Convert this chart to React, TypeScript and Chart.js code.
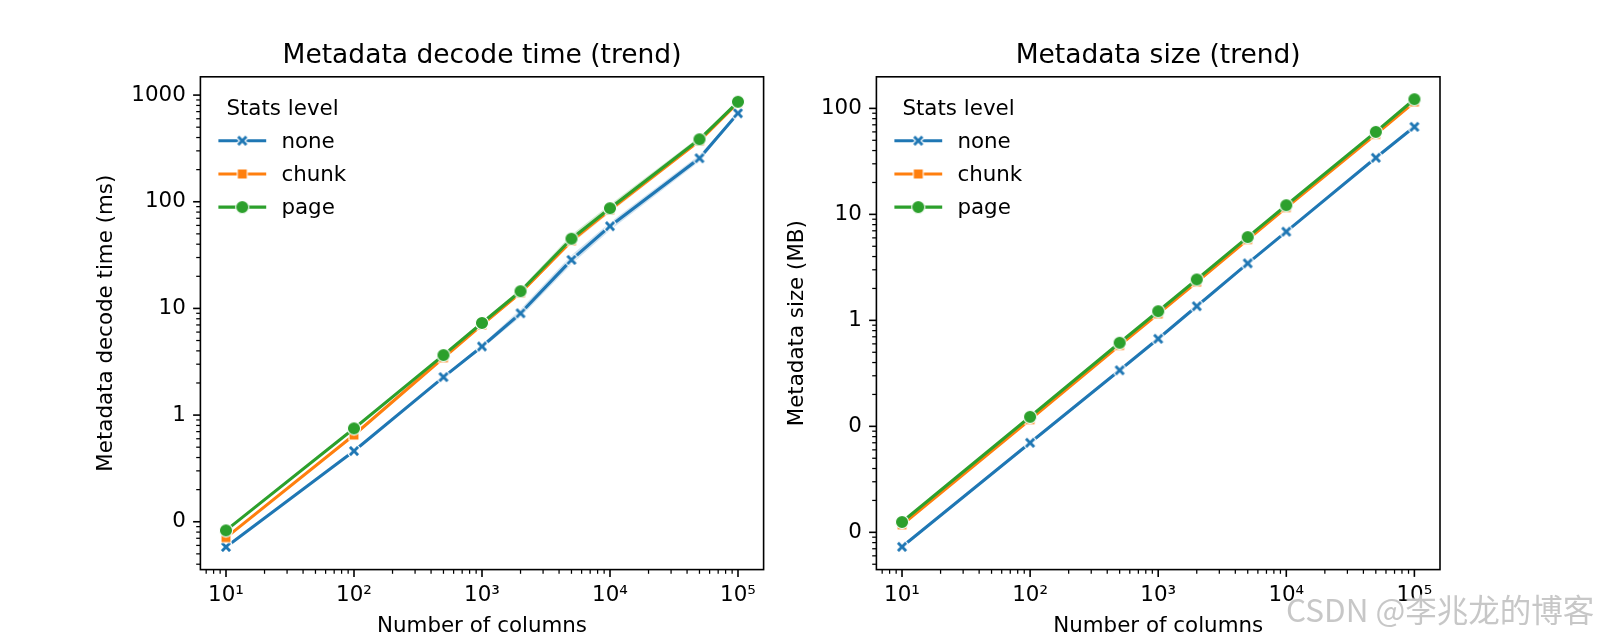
import React, { useEffect, useRef } from 'react';
import { Chart, registerables } from 'chart.js';

Chart.register(...registerables);

// ---------------- data ----------------
const columns = [10, 100, 500, 1000, 2000, 5000, 10000, 50000, 100000];

const seriesLabels = ['none', 'chunk', 'page'];
const seriesColors = ['#1f77b4', '#ff7f0e', '#2ca02c'];
const seriesMarkers = ['x', 'square', 'circle'];

// Metadata decode time (ms)
const decodeNone = [0.058, 0.46, 2.27, 4.4, 9.0, 28.5, 59, 256, 675];
const decodeChunk = [0.071, 0.65, 3.45, 7.0, 14.0, 43, 84, 372, 850];
const decodePage = [0.083, 0.75, 3.65, 7.3, 14.5, 45, 87, 385, 865];
// confidence bands (decode time)
const decodeNoneLow = [0.057, 0.452, 2.22, 4.2, 8.3, 26, 54, 238, 660];
const decodeNoneHigh = [0.059, 0.468, 2.32, 4.6, 9.8, 31.5, 64, 274, 692];
const decodeChunkLow = [0.07, 0.64, 3.38, 6.8, 13.4, 40.5, 79, 358, 832];
const decodeChunkHigh = [0.072, 0.66, 3.52, 7.2, 14.7, 45.5, 89, 387, 868];
const decodePageLow = [0.082, 0.74, 3.56, 7.0, 13.7, 41, 80, 364, 848];
const decodePageHigh = [0.084, 0.76, 3.74, 7.6, 15.3, 49, 94, 406, 882];

// Metadata size (MB)
const sizeNone = [0.0073, 0.07, 0.338, 0.67, 1.36, 3.45, 6.87, 34.2, 67];
const sizeChunk = [0.0118, 0.116, 0.58, 1.15, 2.3, 5.8, 11.6, 57, 115];
const sizePage = [0.0125, 0.123, 0.614, 1.22, 2.43, 6.1, 12.2, 60, 122];

// ticks
const xTickValues = [10, 100, 1000, 10000, 100000];
const xTickLabels = ['10¹', '10²', '10³', '10⁴', '10⁵'];
const decodeTickValues = [0.1, 1, 10, 100, 1000];
const decodeTickLabels = ['0', '1', '10', '100', '1000'];
const sizeTickValues = [0.01, 0.1, 1, 10, 100];
const sizeTickLabels = ['0', '0', '1', '10', '100'];

const legendTitle = 'Stats level';
const xAxisTitle = 'Number of columns';

// ---------------- style ----------------
const FONT = "'DejaVu Sans', sans-serif";
const FS = 21.4;
const TITLE_FS = 26.5;
const H = 640;
const AX_TOP = 76.8;
const AX_BOTTOM = 569.6;
const X_MIN = Math.pow(10, 0.8);
const X_MAX = Math.pow(10, 5.2);

Chart.defaults.font.family = FONT;
Chart.defaults.color = '#000';

function makeMarker(kind: string, color: string): HTMLCanvasElement {
  const s = 22;
  const c = document.createElement('canvas');
  c.width = s;
  c.height = s;
  const g = c.getContext('2d')!;
  const m = s / 2;
  g.beginPath();
  if (kind === 'circle') {
    g.arc(m, m, 6.6, 0, Math.PI * 2);
  } else if (kind === 'square') {
    g.rect(m - 5.0, m - 5.0, 10.0, 10.0);
  } else {
    const a = 6.3;
    const w = 2.0;
    const pts = [
      [w, a], [w, w], [a, w], [a, -w], [w, -w], [w, -a],
      [-w, -a], [-w, -w], [-a, -w], [-a, w], [-w, w], [-w, a],
    ];
    const r = Math.SQRT1_2;
    pts.forEach(([px, py], i) => {
      const x = m + (px - py) * r;
      const y = m + (px + py) * r;
      if (i === 0) g.moveTo(x, y);
      else g.lineTo(x, y);
    });
    g.closePath();
  }
  g.fillStyle = color;
  g.fill();
  g.lineWidth = 1.1;
  g.strokeStyle = '#ffffff';
  g.lineJoin = 'miter';
  g.stroke();
  return c;
}

function hexA(hex: string, a: number) {
  const n = parseInt(hex.slice(1), 16);
  return `rgba(${(n >> 16) & 255},${(n >> 8) & 255},${n & 255},${a})`;
}

// axes frame + matplotlib-like ticks + legend
const decorPlugin = {
  id: 'decor',
  afterDraw(chart: any) {
    const { ctx, chartArea } = chart;
    const { left, right, top, bottom } = chartArea;
    const xs = chart.scales.x;
    const ys = chart.scales.y;
    ctx.save();
    ctx.strokeStyle = '#000';
    const drawX = (v: number, len: number, lw: number) => {
      const p = xs.getPixelForValue(v);
      if (p < left - 0.5 || p > right + 0.5) return;
      ctx.lineWidth = lw;
      ctx.beginPath();
      ctx.moveTo(p, bottom);
      ctx.lineTo(p, bottom + len);
      ctx.stroke();
    };
    const drawY = (v: number, len: number, lw: number) => {
      const p = ys.getPixelForValue(v);
      if (p < top - 0.5 || p > bottom + 0.5) return;
      ctx.lineWidth = lw;
      ctx.beginPath();
      ctx.moveTo(left, p);
      ctx.lineTo(left - len, p);
      ctx.stroke();
    };
    const decades = (min: number, max: number, fn: (v: number, major: boolean) => void) => {
      const lo = Math.floor(Math.log10(min)) - 1;
      const hi = Math.ceil(Math.log10(max)) + 1;
      for (let e = lo; e <= hi; e++) {
        for (let k = 1; k <= 9; k++) {
          const v = k * Math.pow(10, e);
          if (v < min * 0.9999 || v > max * 1.0001) continue;
          fn(v, k === 1);
        }
      }
    };
    decades(xs.min, xs.max, (v, major) => drawX(v, major ? 7.3 : 4.2, major ? 1.6 : 1.25));
    decades(ys.min, ys.max, (v, major) => drawY(v, major ? 7.3 : 4.2, major ? 1.6 : 1.25));
    ctx.lineWidth = 1.6;
    ctx.strokeRect(left, top, right - left, bottom - top);

    // legend
    const L = left;
    const T = top;
    ctx.fillStyle = '#000';
    ctx.font = `${FS}px ${FONT}`;
    ctx.textAlign = 'left';
    ctx.textBaseline = 'alphabetic';
    ctx.fillText(legendTitle, L + 26, T + 38.4);
    const items = chart.data.datasets.filter((d: any) => d.isSeries);
    items.sort((a: any, b: any) => a.seriesIndex - b.seriesIndex);
    const rows = [63.9, 97.2, 130.3];
    items.forEach((d: any, i: number) => {
      const cy = T + rows[i];
      ctx.strokeStyle = d.borderColor;
      ctx.lineWidth = 3.1;
      ctx.lineCap = 'butt';
      ctx.beginPath();
      ctx.moveTo(L + 18, cy);
      ctx.lineTo(L + 65.8, cy);
      ctx.stroke();
      const img = d.pointStyle as HTMLCanvasElement;
      ctx.drawImage(img, L + 41.9 - img.width / 2, cy - img.height / 2);
      ctx.fillStyle = '#000';
      ctx.fillText(d.label, L + 81, cy + 6.8);
    });
    ctx.restore();
  },
};

type Series = { values: number[]; low?: number[]; high?: number[] };

type PanelProps = {
  left: number;
  width: number;
  axesLeft: number;
  axesRight: number;
  title: string;
  yTitle: string;
  yTitlePad: number;
  yMin: number;
  yMax: number;
  yTickValues: number[];
  yTickLabels: string[];
  series: Series[];
};

function Panel(props: PanelProps) {
  const ref = useRef<HTMLCanvasElement>(null);
  useEffect(() => {
    const canvas = ref.current!;
    const datasets: any[] = [];
    props.series.forEach((s, i) => {
      if (!s.low || !s.high) return;
      datasets.push({
        label: seriesLabels[i] + ' low',
        data: columns.map((x, j) => ({ x, y: s.low![j] })),
        borderWidth: 0,
        borderColor: 'rgba(0,0,0,0)',
        pointRadius: 0,
        fill: false,
        order: 20 + i,
      });
      datasets.push({
        label: seriesLabels[i] + ' high',
        data: columns.map((x, j) => ({ x, y: s.high![j] })),
        borderWidth: 0,
        borderColor: 'rgba(0,0,0,0)',
        backgroundColor: hexA(seriesColors[i], 0.22),
        pointRadius: 0,
        fill: '-1',
        order: 20 + i,
      });
    });
    props.series.forEach((s, i) => {
      datasets.push({
        label: seriesLabels[i],
        isSeries: true,
        seriesIndex: i,
        data: columns.map((x, j) => ({ x, y: s.values[j] })),
        borderColor: seriesColors[i],
        backgroundColor: seriesColors[i],
        borderWidth: 3.1,
        borderJoinStyle: 'round',
        pointStyle: makeMarker(seriesMarkers[i], seriesColors[i]),
        pointRadius: 6,
        pointHoverRadius: 6,
        fill: false,
        tension: 0,
        order: 10 - i,
      });
    });

    const chart = new Chart(canvas, {
      type: 'line',
      data: { datasets },
      options: {
        animation: false,
        responsive: false,
        maintainAspectRatio: false,
        events: [],
        layout: { padding: { left: 0, right: props.width - props.axesRight, top: 0, bottom: 0 } },
        plugins: {
          legend: { display: false },
          tooltip: { enabled: false },
          title: {
            display: true,
            fullSize: false,
            text: props.title,
            color: '#000',
            font: { family: FONT, size: TITLE_FS, weight: 'normal', lineHeight: 1.2 },
            padding: { top: 40.0, bottom: AX_TOP - 40.0 - TITLE_FS * 1.2 },
          },
        },
        scales: {
          x: {
            type: 'logarithmic',
            min: X_MIN,
            max: X_MAX,
            grid: { display: false, drawTicks: false },
            border: { display: false },
            ticks: {
              autoSkip: false,
              maxRotation: 0,
              minRotation: 0,
              padding: 13.2,
              color: '#000',
              font: { family: FONT, size: FS },
              callback: (v: any) => {
                const i = xTickValues.indexOf(Number(v));
                return i >= 0 ? xTickLabels[i] : '';
              },
            },
            afterBuildTicks: (s: any) => {
              s.ticks = xTickValues.map((v) => ({ value: v, major: true }));
            },
            afterFit: (s: any) => {
              s.height = H - AX_BOTTOM;
            },
            title: {
              display: true,
              text: xAxisTitle,
              color: '#000',
              font: { family: FONT, size: FS, lineHeight: 1.2 },
              padding: { top: 0, bottom: 0.5 },
            },
          },
          y: {
            type: 'logarithmic',
            min: props.yMin,
            max: props.yMax,
            grid: { display: false, drawTicks: false },
            border: { display: false },
            ticks: {
              autoSkip: false,
              padding: 14.6,
              color: '#000',
              font: { family: FONT, size: FS },
              callback: (v: any) => {
                const i = props.yTickValues.indexOf(Number(v));
                return i >= 0 ? props.yTickLabels[i] : '';
              },
            },
            afterBuildTicks: (s: any) => {
              s.ticks = props.yTickValues.map((v) => ({ value: v, major: true }));
            },
            afterFit: (s: any) => {
              s.width = props.axesLeft;
            },
            title: {
              display: true,
              text: props.yTitle,
              color: '#000',
              font: { family: FONT, size: FS, lineHeight: 1.2 },
              padding: { top: props.yTitlePad, bottom: 0 },
            },
          },
        },
      } as any,
      plugins: [decorPlugin],
    });
    return () => chart.destroy();
  }, []);
  return (
    <canvas
      ref={ref}
      width={props.width}
      height={H}
      style={{ position: 'absolute', left: props.left, top: 0, width: props.width, height: H }}
    />
  );
}

export default function App() {
  return (
    <div
      style={{
        position: 'fixed',
        left: 0,
        top: 0,
        width: 1600,
        height: 640,
        background: '#ffffff',
        overflow: 'hidden',
      }}
    >
      <Panel
        left={0}
        width={780}
        axesLeft={200.4}
        axesRight={763.6}
        title="Metadata decode time (trend)"
        yTitle="Metadata decode time (ms)"
        yTitlePad={94}
        yMin={0.0356}
        yMax={1484}
        yTickValues={decodeTickValues}
        yTickLabels={decodeTickLabels}
        series={[
          { values: decodeNone, low: decodeNoneLow, high: decodeNoneHigh },
          { values: decodeChunk, low: decodeChunkLow, high: decodeChunkHigh },
          { values: decodePage, low: decodePageLow, high: decodePageHigh },
        ]}
      />
      <Panel
        left={780}
        width={820}
        axesLeft={96.4}
        axesRight={660}
        title="Metadata size (trend)"
        yTitle="Metadata size (MB)"
        yTitlePad={5}
        yMin={0.00445}
        yMax={198.6}
        yTickValues={sizeTickValues}
        yTickLabels={sizeTickLabels}
        series={[{ values: sizeNone }, { values: sizeChunk }, { values: sizePage }]}
      />
      <div
        style={{
          position: 'absolute',
          left: 1286,
          top: 592,
          fontFamily: "'Noto Sans CJK SC', sans-serif",
          fontSize: 31.5,
          lineHeight: '32px',
          color: 'rgba(175,175,175,0.7)',
          textShadow: '0 0 2px #fff, 0 0 2px #fff',
          whiteSpace: 'nowrap',
        }}
      >
        CSDN @李兆龙的博客
      </div>
    </div>
  );
}
